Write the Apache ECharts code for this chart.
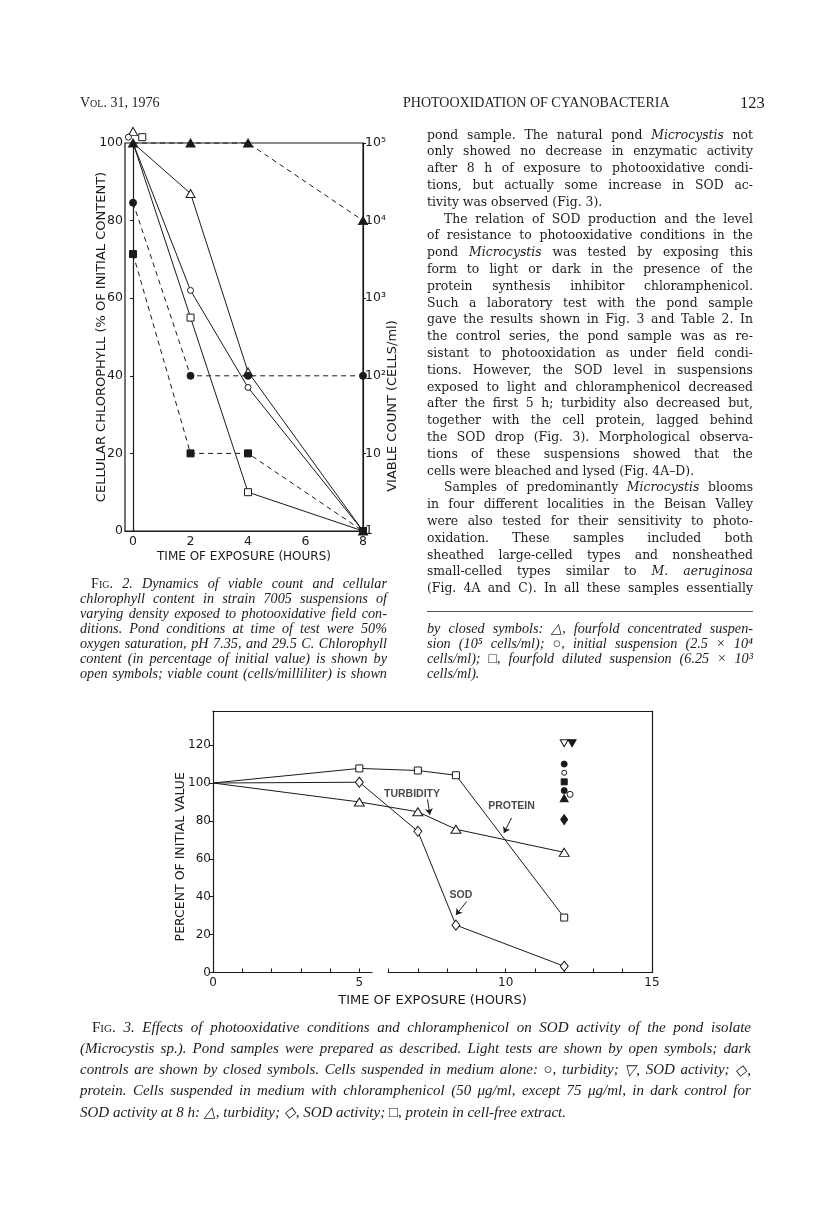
<!DOCTYPE html>
<html>
<head>
<meta charset="utf-8">
<title>Photooxidation of cyanobacteria - Fig. 2 and Fig. 3</title>
<script src="https://cdn.jsdelivr.net/npm/echarts@6.0.0/dist/echarts.min.js"></script>
<style>
  html, body { margin: 0; padding: 0; background: #fff; }
  #page { position: relative; width: 816px; height: 1208px; overflow: hidden; background: #fff; }
  #chart { position: absolute; left: 0; top: 0; width: 816px; height: 1208px; }
  .ln { position: absolute; white-space: nowrap; color: #1c1c1c; z-index: 2; }
  .ln.j { display: flex; justify-content: space-between; }
  .sc { font-style: normal; font-variant: small-caps; }
  .rule { position: absolute; height: 0; border-top: 1px solid #555; z-index: 2; }
</style>
</head>
<body>
<div id="page">
  <div id="chart"></div>
</div>
<script>
// ---------- Fig. 2 data ----------
// chlorophyll, % of initial (open symbols, solid lines)
const f2Hours = [0, 2, 4, 8];
const f2ChlTri = [100, 87, 41, 0];
const f2ChlCirc = [100, 62, 37, 0];
const f2ChlSq = [100, 55, 10, 0];
// open symbols at time 0 are drawn shifted above the common start
const f2StartTri = [[0, 103]];
const f2StartCirc = [[-0.16, 101.5]];
const f2StartSq = [[0.32, 101.5]];
// viable count, cells/ml (closed symbols, dashed lines)
const f2CountTri = [1e5, 1e5, 1e5, 1e4];
const f2CountCirc = [17000, 100, 100, 100];
const f2CountSq = [3700, 10, 10, 1];
const f2XLabels = [0, 2, 4, 6, 8];

// ---------- Fig. 3 data ----------
const f3Hours = [0, 5, 7, 8.3, 12];
const f3Protein = [100, 107.7, 106.6, 104.1, 29];
const f3Sod = [100, 100.4, 74.5, 25, 3.3];
const f3Turb = [100, 90, 84.8, 75.6, 63.4];
// dark controls / medium alone, read at 12 h
const f3OpenDown = [[12, 121]];
const f3FilledDown = [[12.27, 121]];
const f3FilledCircle = [[12, 110], [12, 96]];
const f3OpenCircleSmall = [[12, 105.4]];
const f3OpenCircle = [[12.2, 94]];
const f3FilledSquare = [[12, 100.6]];
const f3FilledTri = [[12, 92]];
const f3FilledDiamond = [[12, 80.7]];
const f3YLabels = [0, 20, 40, 60, 80, 100, 120];
// the time axis is broken between these pieces
const f3AxisPieces = [[0, 5.45], [5.97, 15]];
const f3Notes = [
  { text: 'TURBIDITY', at: [6.8, 94], from: [7.33, 91.3], to: [7.41, 83.3] },
  { text: 'PROTEIN', at: [10.2, 87.6], from: [10.2, 81.6], to: [9.94, 73.6] },
  { text: 'SOD', at: [8.47, 41], from: [8.67, 37.5], to: [8.3, 30.4] }
];

// ---------- page text ----------
const bodyLines = [
  ['pond sample. The natural pond *Microcystis* not', 1],
  ['only showed no decrease in enzymatic activity', 1],
  ['after 8 h of exposure to photooxidative condi-', 1],
  ['tions, but actually some increase in SOD ac-', 1],
  ['tivity was observed (Fig. 3).', 0],
  ['The relation of SOD production and the level', 1, 17],
  ['of resistance to photooxidative conditions in the', 1],
  ['pond *Microcystis* was tested by exposing this', 1],
  ['form to light or dark in the presence of the', 1],
  ['protein synthesis inhibitor chloramphenicol.', 1],
  ['Such a laboratory test with the pond sample', 1],
  ['gave the results shown in Fig. 3 and Table 2. In', 1],
  ['the control series, the pond sample was as re-', 1],
  ['sistant to photooxidation as under field condi-', 1],
  ['tions. However, the SOD level in suspensions', 1],
  ['exposed to light and chloramphenicol decreased', 1],
  ['after the first 5 h; turbidity also decreased but,', 1],
  ['together with the cell protein, lagged behind', 1],
  ['the SOD drop (Fig. 3). Morphological observa-', 1],
  ['tions of these suspensions showed that the', 1],
  ['cells were bleached and lysed (Fig. 4A–D).', 0],
  ['Samples of predominantly *Microcystis* blooms', 1, 17],
  ['in four different localities in the Beisan Valley', 1],
  ['were also tested for their sensitivity to photo-', 1],
  ['oxidation. These samples included both', 1],
  ['sheathed large-celled types and nonsheathed', 1],
  ['small-celled types similar to *M.* *aeruginosa*', 1],
  ['(Fig. 4A and C). In all these samples essentially', 1]
];
const fig2Caption = [
  ['#Fig. 2. Dynamics of viable count and cellular', 1, 11],
  ['chlorophyll content in strain 7005 suspensions of', 1],
  ['varying density exposed to photooxidative field con-', 1],
  ['ditions. Pond conditions at time of test were 50%', 1],
  ['oxygen saturation, pH 7.35, and 29.5 C. Chlorophyll', 1],
  ['content (in percentage of initial value) is shown by', 1],
  ['open symbols; viable count (cells/milliliter) is shown', 1]
];
const fig2CaptionEnd = [
  ['by closed symbols: △, fourfold concentrated suspen-', 1],
  ['sion (10⁵ cells/ml); ○, initial suspension (2.5 × 10⁴', 1],
  ['cells/ml); □, fourfold diluted suspension (6.25 × 10³', 1],
  ['cells/ml).', 0]
];
const fig3Caption = [
  ['#Fig. 3. Effects of photooxidative conditions and chloramphenicol on SOD activity of the pond isolate', 1, 12],
  ['(Microcystis sp.). Pond samples were prepared as described. Light tests are shown by open symbols; dark', 1],
  ['controls are shown by closed symbols. Cells suspended in medium alone: ○, turbidity; ▽, SOD activity; ◇,', 1],
  ['protein. Cells suspended in medium with chloramphenicol (50 μg/ml, except 75 μg/ml, in dark control for', 1],
  ['SOD activity at 8 h: △, turbidity; ◇, SOD activity; □, protein in cell-free extract.', 0]
];

const page = document.getElementById('page');

function fmt(w) {
  if (w[0] === '#') return '<span class="sc">' + w.slice(1) + '</span>';
  return w.replace(/\*([^*]+)\*/g, '<i>$1</i>');
}

function placeLines(lines, o) {
  lines.forEach(function (ln, i) {
    const d = document.createElement('div');
    const ind = ln[2] || 0;
    const words = ln[0].split(' ');
    d.className = 'ln' + (ln[1] ? ' j' : '');
    d.style.left = (o.x + ind) + 'px';
    d.style.width = (o.w - ind) + 'px';
    d.style.top = (o.y + i * o.step - o.lh / 2) + 'px';
    d.style.height = o.lh + 'px';
    d.style.lineHeight = o.lh + 'px';
    d.style.font = o.font;
    if (ln[1]) {
      d.innerHTML = words.map(function (w) { return '<span>' + fmt(w) + '</span>'; }).join('');
    } else {
      d.innerHTML = words.map(fmt).join(' ');
    }
    page.appendChild(d);
  });
}

// running head
placeLines([['#Vol. 31, 1976', 0]], { x: 80, y: 104, w: 120, step: 0, lh: 18, font: '14px "Liberation Serif"' });
placeLines([['PHOTOOXIDATION OF CYANOBACTERIA', 0]], { x: 403, y: 104, w: 310, step: 0, lh: 18, font: '14px "Liberation Serif"' });
placeLines([['123', 0]], { x: 740, y: 103, w: 40, step: 0, lh: 20, font: '16.5px "Liberation Serif"' });

placeLines(bodyLines, { x: 427, y: 135, w: 326, step: 16.8, lh: 17, font: '12.4px "DejaVu Serif"' });
placeLines(fig2Caption, { x: 80, y: 582, w: 307, step: 15, lh: 15, font: 'italic 14.2px "Liberation Serif"' });
placeLines(fig2CaptionEnd, { x: 427, y: 627, w: 326, step: 15.2, lh: 15, font: 'italic 14.2px "Liberation Serif"' });
placeLines(fig3Caption, { x: 80, y: 1028, w: 671, step: 21, lh: 18, font: 'italic 15px "Liberation Serif"' });

const rule = document.createElement('div');
rule.className = 'rule';
rule.style.left = '427px';
rule.style.width = '326px';
rule.style.top = '611px';
page.appendChild(rule);

// ---------- chart ----------
const ink = '#1a1a1a';
const chart = echarts.init(document.getElementById('chart'));

function pair(xs, ys) { return xs.map(function (x, i) { return [x, ys[i]]; }); }
// curves of one panel share the start point, which carries no marker
function noFirst(d) { return d.map(function (p, i) { return i === 0 ? { value: p, symbol: 'none' } : p; }); }

function curve(name, data, xi, yi, symbol, size, filled, dashed) {
  return {
    name: name, type: 'line', xAxisIndex: xi, yAxisIndex: yi, data: data, clip: false,
    symbol: symbol, symbolSize: size, showSymbol: true, showAllSymbol: true,
    lineStyle: { color: ink, width: 1, type: dashed ? [5, 4] : 'solid' },
    itemStyle: { color: filled ? ink : '#fff', borderColor: ink, borderWidth: 1 },
    z: filled ? 4 : 3
  };
}
function dots(name, data, xi, yi, symbol, size, filled, rotate) {
  return {
    name: name, type: 'scatter', xAxisIndex: xi, yAxisIndex: yi, data: data, clip: false,
    symbol: symbol, symbolSize: size, symbolRotate: rotate || 0,
    itemStyle: { color: filled ? ink : '#fff', borderColor: ink, borderWidth: 1, opacity: 1 },
    z: 5
  };
}

const sup = { 1: '1', 10: '10', 100: '10²', 1000: '10³', 10000: '10⁴', 100000: '10⁵' };
const labelFont2 = { color: ink, fontFamily: 'DejaVu Sans', fontSize: 12.5 };
const labelFont3 = { color: ink, fontFamily: 'DejaVu Sans', fontSize: 12 };
const nameFont = { color: ink, fontFamily: 'DejaVu Sans', fontSize: 12 };

const axisSeries = f3AxisPieces.map(function (p, i) {
  return {
    name: 'axis piece ' + i, type: 'line', xAxisIndex: 1, yAxisIndex: 2, silent: true,
    data: [[p[0], 0], [p[1], 0]], symbol: 'none',
    lineStyle: { color: ink, width: 1.2 }, z: 2
  };
});

const option = {
  animation: false,
  backgroundColor: 'transparent',
  textStyle: { fontFamily: 'DejaVu Sans', color: ink },
  grid: [
    { left: 125, top: 143, width: 238, height: 388, show: true, borderColor: ink, borderWidth: 1.2, backgroundColor: 'transparent' },
    { left: 213, top: 711, width: 439, height: 261.5, show: false }
  ],
  xAxis: [
    {
      type: 'value', gridIndex: 0, min: -0.28, max: 8,
      name: 'TIME OF EXPOSURE (HOURS)', nameLocation: 'middle', nameGap: 20, nameMoveOverlap: false,
      nameTextStyle: nameFont,
      axisLine: { show: true, lineStyle: { color: ink, width: 1.2 } },
      axisTick: { show: false },
      axisLabel: Object.assign({ customValues: f2XLabels, margin: 4 }, labelFont2),
      splitLine: { show: false }
    },
    {
      type: 'value', gridIndex: 1, min: 0, max: 15, interval: 5,
      name: 'TIME OF EXPOSURE (HOURS)', nameLocation: 'middle', nameGap: 22, nameMoveOverlap: false,
      nameTextStyle: Object.assign({}, nameFont, { fontSize: 13 }),
      axisLine: { show: false },
      axisTick: { show: true, inside: true, length: 4, lineStyle: { color: ink } },
      minorTick: { show: true, splitNumber: 5, length: 4, lineStyle: { color: ink } },
      axisLabel: Object.assign({ margin: 4 }, labelFont3),
      splitLine: { show: false }
    },
    {
      type: 'value', gridIndex: 1, min: 0, max: 15, position: 'top',
      axisLine: { show: true, onZero: false, lineStyle: { color: ink, width: 1.2 } },
      axisTick: { show: false }, axisLabel: { show: false }, splitLine: { show: false }
    }
  ],
  yAxis: [
    {
      type: 'value', gridIndex: 0, min: 0, max: 100, interval: 20, position: 'left',
      name: 'CELLULAR CHLOROPHYLL (% OF INITIAL CONTENT)', nameLocation: 'middle', nameGap: 17, nameMoveOverlap: false,
      nameTextStyle: Object.assign({}, nameFont, { fontSize: 13 }),
      axisLine: { show: true, lineStyle: { color: ink, width: 1.2 } },
      axisTick: { show: true, length: 3, lineStyle: { color: ink } },
      axisLabel: Object.assign({ margin: 2 }, labelFont2),
      splitLine: { show: false }
    },
    {
      type: 'log', logBase: 10, gridIndex: 0, min: 1, max: 100000, position: 'right',
      name: 'VIABLE COUNT (CELLS/ml)', nameLocation: 'middle', nameGap: 23, nameMoveOverlap: false,
      nameTextStyle: Object.assign({}, nameFont, { fontSize: 13, padding: [0, 138, 0, 0] }),
      axisLine: { show: true, lineStyle: { color: ink, width: 1.2 } },
      axisTick: { show: true, length: 3, lineStyle: { color: ink } },
      axisLabel: Object.assign({
        margin: 2,
        formatter: function (v) { return sup[Math.round(v)] || ''; }
      }, labelFont2),
      splitLine: { show: false }
    },
    {
      type: 'value', gridIndex: 1, min: 0, max: 138, position: 'left',
      name: 'PERCENT OF INITIAL VALUE', nameLocation: 'middle', nameGap: 26, nameMoveOverlap: false,
      nameTextStyle: Object.assign({}, nameFont, { fontSize: 12.5, padding: [0, 30, 0, 0] }),
      axisLine: { show: true, lineStyle: { color: ink, width: 1.2 } },
      axisTick: { show: true, length: 4, customValues: f3YLabels, lineStyle: { color: ink } },
      axisLabel: Object.assign({ margin: 2, customValues: f3YLabels }, labelFont3),
      splitLine: { show: false }
    },
    {
      type: 'value', gridIndex: 1, min: 0, max: 138, position: 'right',
      axisLine: { show: true, onZero: false, lineStyle: { color: ink, width: 1.2 } },
      axisTick: { show: false }, axisLabel: { show: false }, splitLine: { show: false }
    }
  ],
  series: [
    // Fig. 2 chlorophyll
    curve('chl 4x conc', noFirst(pair(f2Hours, f2ChlTri)), 0, 0, 'triangle', [9, 8], false, false),
    curve('chl initial', noFirst(pair(f2Hours, f2ChlCirc)), 0, 0, 'circle', 6, false, false),
    curve('chl 4x dil', noFirst(pair(f2Hours, f2ChlSq)), 0, 0, 'rect', 7, false, false),
    dots('chl 4x conc t0', f2StartTri, 0, 0, 'triangle', [9, 8], false),
    dots('chl initial t0', f2StartCirc, 0, 0, 'circle', 6, false),
    dots('chl 4x dil t0', f2StartSq, 0, 0, 'rect', 7, false),
    // Fig. 2 viable count
    curve('count 4x conc', pair(f2Hours, f2CountTri), 0, 1, 'triangle', [9, 8], true, true),
    curve('count initial', pair(f2Hours, f2CountCirc), 0, 1, 'circle', 7, true, true),
    curve('count 4x dil', pair(f2Hours, f2CountSq), 0, 1, 'rect', 7, true, true),
    // Fig. 3
    ...axisSeries,
    curve('protein', noFirst(pair(f3Hours, f3Protein)), 1, 2, 'rect', 7, false, false),
    curve('SOD', noFirst(pair(f3Hours, f3Sod)), 1, 2, 'diamond', [8, 10], false, false),
    curve('turbidity', noFirst(pair(f3Hours, f3Turb)), 1, 2, 'triangle', [10, 8], false, false),
    dots('open down', f3OpenDown, 1, 2, 'triangle', [8, 7], false, 180),
    dots('filled down', f3FilledDown, 1, 2, 'triangle', [8, 7], true, 180),
    dots('filled circle', f3FilledCircle, 1, 2, 'circle', 6, true),
    dots('open circle small', f3OpenCircleSmall, 1, 2, 'circle', 5, false),
    dots('open circle', f3OpenCircle, 1, 2, 'circle', 6, false),
    dots('filled square', f3FilledSquare, 1, 2, 'rect', 6, true),
    dots('filled triangle', f3FilledTri, 1, 2, 'triangle', [8, 7], true),
    dots('filled diamond', f3FilledDiamond, 1, 2, 'diamond', [7, 10], true),
    {
      name: 'notes', type: 'scatter', xAxisIndex: 1, yAxisIndex: 2, silent: true,
      data: f3Notes.map(function (n) { return [n.at[0], n.at[1], n.text]; }),
      symbolSize: 1, itemStyle: { color: 'rgba(0,0,0,0)' },
      label: {
        show: true, position: 'inside', color: ink, fontFamily: 'Liberation Sans',
        fontWeight: 'bold', fontSize: 10.5,
        formatter: function (p) { return p.value[2]; }
      },
      markLine: {
        silent: true, symbol: ['none', 'arrow'], symbolSize: 6, animation: false,
        lineStyle: { color: ink, width: 1, type: 'solid' }, label: { show: false },
        data: f3Notes.map(function (n) { return [{ coord: n.from }, { coord: n.to }]; })
      },
      z: 6
    }
  ]
};

chart.setOption(option);
</script>
</body>
</html>
